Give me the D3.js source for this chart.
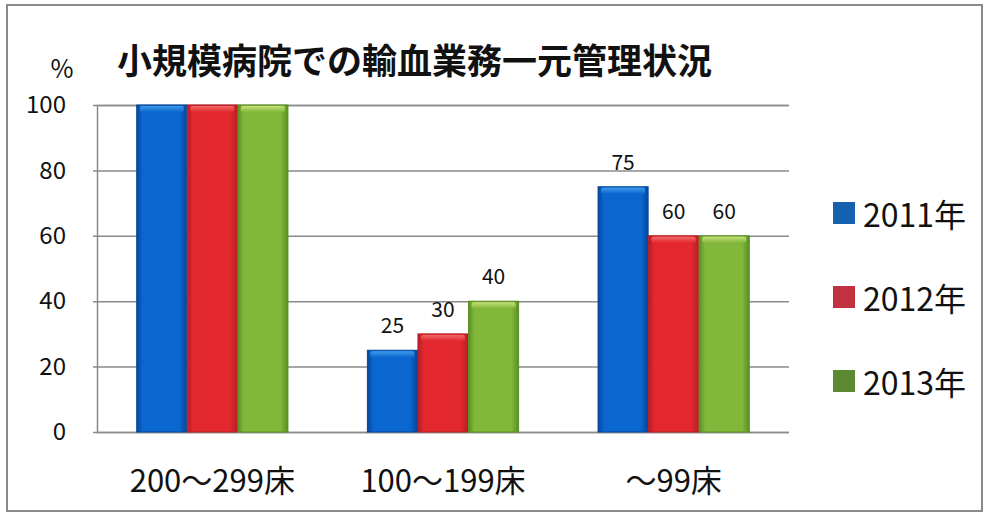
<!DOCTYPE html>
<html>
<head>
<meta charset="utf-8">
<script src="https://cdn.jsdelivr.net/npm/d3@7"></script>
<style>
  body { margin: 0; background: #fff; }
  text { font-family: "Noto Sans CJK JP", "Noto Sans", sans-serif; fill: #111; }
</style>
</head>
<body>
<div id="chart"></div>
<script>
var categories = ["200～299床", "100～199床", "～99床"];
var seriesNames = ["2011年", "2012年", "2013年"];
var values2011 = [100, 25, 75];
var values2012 = [100, 30, 60];
var values2013 = [100, 40, 60];
var yTicks = [0, 20, 40, 60, 80, 100];

var seriesValues = [values2011, values2012, values2013];
var barColors = [
  { edge: "#04479c", mid: "#0b67d0", top: "#3f9ae8", legend: "#1561b0" },
  { edge: "#b81d24", mid: "#e3282f", top: "#f06a6a", legend: "#c2313f" },
  { edge: "#5a8f22", mid: "#82b83a", top: "#c6e07a", legend: "#5b8a32" }
];

var width = 984, height = 513;
var plot = { left: 97, right: 789, top: 105, bottom: 432 };

var svg = d3.select("#chart").append("svg")
  .attr("width", width)
  .attr("height", height);

// outer frame
svg.append("rect")
  .attr("x", 7).attr("y", 5)
  .attr("width", 975).attr("height", 506)
  .attr("fill", "none")
  .attr("stroke", "#8a8a8a")
  .attr("stroke-width", 2);

var defs = svg.append("defs");
barColors.forEach(function(c, i) {
  var g = defs.append("linearGradient").attr("id", "body" + i)
    .attr("x1", 0).attr("x2", 1).attr("y1", 0).attr("y2", 0);
  g.append("stop").attr("offset", "0%").attr("stop-color", c.edge);
  g.append("stop").attr("offset", "12%").attr("stop-color", c.mid);
  g.append("stop").attr("offset", "85%").attr("stop-color", c.mid);
  g.append("stop").attr("offset", "100%").attr("stop-color", c.edge);
  var t = defs.append("linearGradient").attr("id", "cap" + i)
    .attr("x1", 0).attr("x2", 0).attr("y1", 0).attr("y2", 1);
  t.append("stop").attr("offset", "0%").attr("stop-color", c.top);
  t.append("stop").attr("offset", "100%").attr("stop-color", c.mid);
});

var x0 = d3.scaleBand()
  .domain(categories)
  .range([plot.left, plot.right])
  .paddingInner(0.34)
  .paddingOuter(0.17);

var x1 = d3.scaleBand()
  .domain(seriesNames)
  .range([0, x0.bandwidth()])
  .padding(0.01);

var y = d3.scaleLinear()
  .domain([0, 100])
  .range([plot.bottom, plot.top]);

// gridlines + y labels
var yAxis = d3.axisLeft(y)
  .tickValues(yTicks)
  .tickSize(-(plot.right - plot.left))
  .tickPadding(31)
  .tickFormat(d3.format("d"));

var gy = svg.append("g")
  .attr("transform", "translate(" + plot.left + ",0)")
  .call(yAxis);
gy.select(".domain").attr("stroke", "#8a8a8a").attr("stroke-width", 1.5);
gy.selectAll(".tick line")
  .attr("x1", -4)
  .attr("x2", plot.right - plot.left)
  .attr("stroke", "#8a8a8a")
  .attr("stroke-width", 1.5);
gy.selectAll(".tick text")
  .attr("font-size", 24)
  .attr("fill", "#111");

svg.append("text")
  .attr("x", 62).attr("y", 67)
  .attr("text-anchor", "middle")
  .attr("dominant-baseline", "central")
  .attr("font-size", 25)
  .text("%");

// bars
var groups = svg.append("g").selectAll("g")
  .data(categories)
  .join("g")
  .attr("transform", function(d) { return "translate(" + x0(d) + ",0)"; });

var bars = groups.selectAll("g.bar")
  .data(function(cat, ci) {
    return seriesNames.map(function(s, si) {
      return { series: s, si: si, value: seriesValues[si][ci] };
    });
  })
  .join("g")
  .attr("class", "bar");

bars.append("rect")
  .attr("x", function(d) { return x1(d.series); })
  .attr("y", function(d) { return y(d.value); })
  .attr("width", x1.bandwidth())
  .attr("height", function(d) { return y(0) - y(d.value); })
  .attr("fill", function(d) { return "url(#body" + d.si + ")"; })
  .attr("stroke", function(d) { return barColors[d.si].edge; })
  .attr("stroke-width", 1);

bars.append("rect")
  .attr("x", function(d) { return x1(d.series) + 3; })
  .attr("y", function(d) { return y(d.value) + 1; })
  .attr("width", x1.bandwidth() - 6)
  .attr("height", 6)
  .attr("rx", 2)
  .attr("fill", function(d) { return "url(#cap" + d.si + ")"; });

// value labels (the 100% bars have none)
bars.filter(function(d) { return d.value < 100; })
  .append("text")
  .attr("x", function(d) { return x1(d.series) + x1.bandwidth() / 2; })
  .attr("y", function(d) { return y(d.value) - 26; })
  .attr("text-anchor", "middle")
  .attr("dominant-baseline", "central")
  .attr("font-size", 21)
  .text(function(d) { return d.value; });

// category labels
svg.append("g").selectAll("text")
  .data(categories)
  .join("text")
  .attr("x", function(d) { return x0(d) + x0.bandwidth() / 2; })
  .attr("y", 478)
  .attr("text-anchor", "middle")
  .attr("dominant-baseline", "central")
  .attr("font-size", 31)
  .text(function(d) { return d; });

// title
svg.append("text")
  .attr("x", 117).attr("y", 58)
  .attr("dominant-baseline", "central")
  .attr("font-size", 35)
  .attr("font-weight", "bold")
  .attr("fill", "#000")
  .text("小規模病院での輸血業務一元管理状況");

// legend
var legend = svg.append("g").selectAll("g")
  .data(seriesNames)
  .join("g")
  .attr("transform", function(d, i) { return "translate(833," + (213 + i * 84) + ")"; });

legend.append("rect")
  .attr("x", 0).attr("y", -11)
  .attr("width", 22).attr("height", 22)
  .attr("fill", function(d, i) { return barColors[i].legend; });

legend.append("text")
  .attr("x", 30).attr("y", 0)
  .attr("dominant-baseline", "central")
  .attr("font-size", 32)
  .text(function(d) { return d; });
</script>
</body>
</html>
